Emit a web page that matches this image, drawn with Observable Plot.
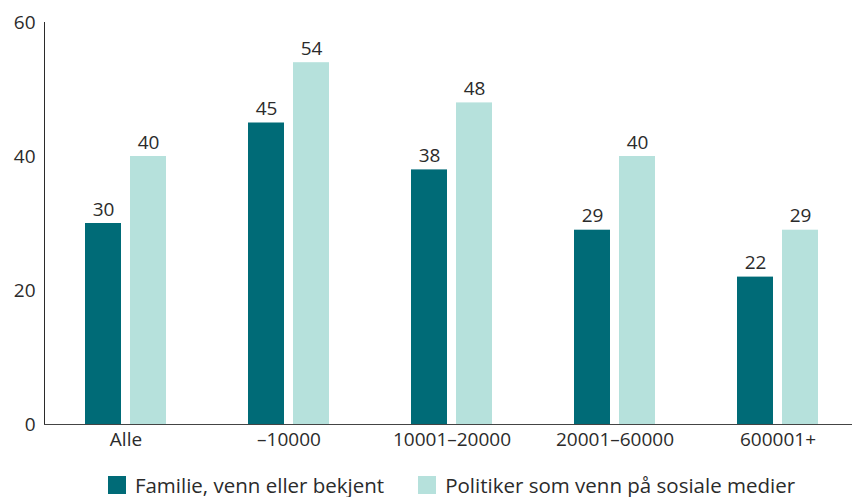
<!DOCTYPE html>
<html>
<head>
<meta charset="utf-8">
<script src="https://cdn.jsdelivr.net/npm/d3@7"></script>
<script src="https://cdn.jsdelivr.net/npm/@observablehq/plot@0.6"></script>
<style>
  html, body { margin: 0; padding: 0; background: #fff; }
  #chart { width: 852px; font-family: "Open Sans", Roboto, sans-serif; }
  #legend { padding-left: 51px; width: 801px; display: flex; justify-content: center; margin-top: 11px; }
  #legend div.leg-swatches { font-family: "Open Sans", Roboto, sans-serif; font-size: 20.5px; line-height: 24px; color: #2b2b2b; min-height: 0; margin: 0; }
  #legend span.leg-swatch { margin-right: 34px; line-height: 24px; }
  #legend span.leg-swatch:last-child { margin-right: 0; }
  #legend span.leg-swatch > svg { margin-right: 9px; }
</style>
</head>
<body>
<div id="chart"></div>
<div id="legend"></div>
<script>
const categories = ["Alle", "–10000", "10001–20000", "20001–60000", "600001+"];
const series = ["Familie, venn eller bekjent", "Politiker som venn på sosiale medier"];
const familie = [30, 45, 38, 29, 22];
const politiker = [40, 54, 48, 40, 29];
const colors = ["#006b77", "#b6e1dc"];
const yTicks = [0, 20, 40, 60];

const data = [];
categories.forEach((c, i) => {
  data.push({cat: c, series: series[0], value: familie[i]});
  data.push({cat: c, series: series[1], value: politiker[i]});
});

const plot = Plot.plot({
  width: 852,
  height: 462,
  marginLeft: 42,
  marginRight: -9,
  marginTop: 22,
  marginBottom: 38,
  style: {fontFamily: "'Open Sans', Roboto, sans-serif", fontSize: "19px", color: "#2b2b2b", background: "#fff", overflow: "hidden"},
  fx: {domain: categories, padding: 0, label: null, axis: "bottom", tickSize: 0, tickPadding: 8},
  x: {domain: series, paddingInner: 0.196, paddingOuter: 0.894, align: 0.5, axis: null},
  y: {domain: [0, 60], ticks: yTicks, label: null, tickSize: 0, tickPadding: 9, line: true},
  color: {domain: series, range: colors},
  marks: [
    Plot.barY(data, {fx: "cat", x: "series", y: "value", fill: "series"}),
    Plot.text(data, {fx: "cat", x: "series", y: "value", text: d => String(d.value), dy: -8, lineAnchor: "bottom", fill: "#2b2b2b"}),
    Plot.frame({anchor: "bottom", facet: "super", stroke: "#444"})
  ]
});
document.getElementById("chart").appendChild(plot);

const leg = Plot.legend({color: {type: "ordinal", domain: series, range: colors}, swatchSize: 18, className: "leg"});
document.getElementById("legend").appendChild(leg);
</script>
</body>
</html>
